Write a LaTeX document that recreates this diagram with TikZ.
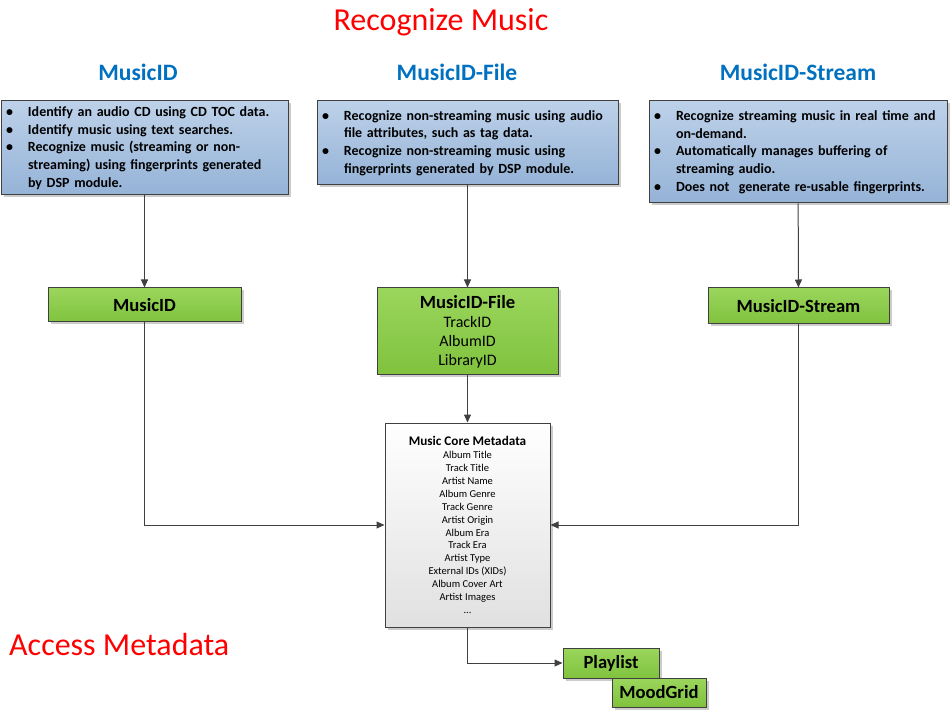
\documentclass[tikz,border=0pt]{standalone}
\usepackage{fontspec}
\setmainfont{Carlito}
\usetikzlibrary{arrows.meta,shadows}
\definecolor{titlered}{HTML}{FF0000}
\definecolor{headblue}{HTML}{0070C0}
\definecolor{linegray}{HTML}{404040}
\definecolor{bluetop}{HTML}{BDD1E9}
\definecolor{bluebot}{HTML}{95B3D7}
\definecolor{greentop}{HTML}{9AD65C}
\definecolor{greenbot}{HTML}{80C23E}
\newcommand{\bul}{\makebox[22pt][l]{\textbullet}}
\newcommand{\cont}{\hspace*{22pt}}

\begin{document}
\begin{tikzpicture}[x=1pt,y=-1pt,
    boxshadow/.style={drop shadow={shadow xshift=2.5pt,shadow yshift=-2.5pt,fill=black,opacity=.2}},
    bluebox/.style={draw=linegray, line width=1pt, top color=bluetop, bottom color=bluebot,
      boxshadow, inner xsep=5pt, inner ysep=0pt, align=left,
      font=\fontsize{14}{17.7}\selectfont\bfseries},
    greenbox/.style={draw=linegray, line width=1pt, top color=greentop, bottom color=greenbot,
      boxshadow, inner sep=0pt, align=center},
    boxtitle/.style={font=\fontsize{18.6}{20}\selectfont\bfseries},
    corebox/.style={draw=linegray, line width=1pt, top color=white, bottom color=black!12,
      boxshadow, inner sep=0pt, align=center, font=\fontsize{10.5}{12.9}\selectfont},
    heading/.style={text=headblue, font=\fontsize{23.5}{26}\selectfont\bfseries, inner sep=0pt},
    bigtitle/.style={text=titlered, font=\fontsize{32}{36}\selectfont, inner sep=0pt},
    link/.style={draw=linegray, line width=1pt, -{Triangle[length=8pt,width=7pt]}}]

  \useasboundingbox (0,0) rectangle (951,711);

  % titles
  \node[bigtitle] (recognize) at (441,22) {Recognize Music};
  \node[bigtitle, anchor=west] (access) at (9,645) {Access Metadata};

  \node[heading] (head1) at (138,72) {MusicID};
  \node[heading] (head2) at (457,72) {MusicID-File};
  \node[heading] (head3) at (798,72) {MusicID-Stream};

  % description boxes
  \node[bluebox, text width=277pt, minimum height=94pt] (desc1) at (144.5,148)
    {\bul Identify an audio CD using CD TOC data.\\
     \bul Identify music using text searches.\\
     \bul Recognize music (streaming or non-\\
     \cont streaming) using fingerprints generated\\
     \cont by DSP module.};
  \node[bluebox, text width=291pt, minimum height=84pt] (desc2) at (467.5,143)
    {\bul Recognize non-streaming music using audio\\
     \cont file attributes, such as tag data.\\
     \bul Recognize non-streaming music using\\
     \cont fingerprints generated by DSP module.};
  \node[bluebox, text width=288pt, minimum height=102pt] (desc3) at (798,152)
    {\bul Recognize streaming music in real time and\\
     \cont on-demand.\\
     \bul Automatically manages buffering of\\
     \cont streaming audio.\\
     \bul Does not\ \ generate re-usable fingerprints.};

  % modules
  \node[greenbox, boxtitle, minimum width=193pt, minimum height=34pt] (musicid) at (144.5,305) {MusicID};
  \node[greenbox, minimum width=181pt, minimum height=87pt,
        font=\fontsize{16}{19}\selectfont] (musicidfile) at (467.5,331.5)
    {{\fontsize{18.6}{19}\selectfont\bfseries MusicID-File}\\ TrackID\\ AlbumID\\ LibraryID};
  \node[greenbox, boxtitle, minimum width=181pt, minimum height=36pt] (musicidstream) at (798.5,306) {MusicID-Stream};

  % metadata
  \node[corebox, minimum width=165pt, minimum height=204pt] (core) at (467.5,525)
    {{\fontsize{13.2}{15}\selectfont\bfseries Music Core Metadata}\\
     Album Title\\ Track Title\\ Artist Name\\ Album Genre\\ Track Genre\\
     Artist Origin\\ Album Era\\ Track Era\\ Artist Type\\ External IDs (XIDs)\\
     Album Cover Art\\ Artist Images\\ ...};

  \node[greenbox, boxtitle, minimum width=96pt, minimum height=30pt] (playlist) at (611,663) {Playlist};
  \node[greenbox, boxtitle, minimum width=94pt, minimum height=29pt] (moodgrid) at (659,692.5) {MoodGrid};

  % connectors
  \draw[link] (desc1) -- (musicid);
  \draw[link] (desc2) -- (musicidfile);
  \draw[link] (desc3) -- (musicidstream);
  \draw[link] (musicidfile) -- (core);
  \draw[link] (musicid.south) |- (core.west);
  \draw[link] (musicidstream.south) |- (core.east);
  \draw[link] (core.south) |- (playlist.west);
\end{tikzpicture}
\end{document}
